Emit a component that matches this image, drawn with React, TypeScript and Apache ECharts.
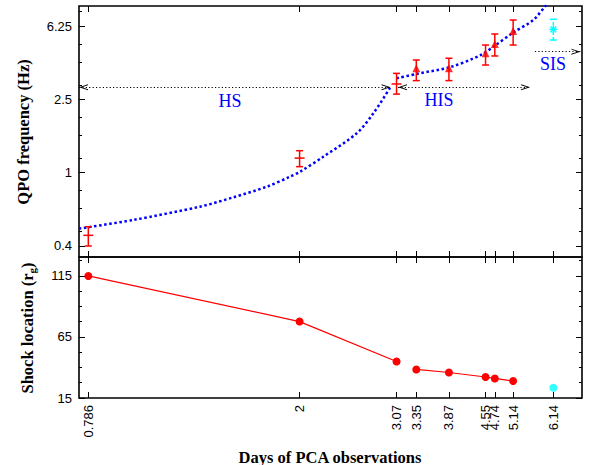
import React, { useEffect, useRef } from 'react';
import * as echarts from 'echarts';

// ---- axes ----
const days = [0.786, 2, 3.07, 3.35, 3.87, 4.55, 4.74, 5.14, 6.14];
const X_MIN = 0.7543;
const X_MAX = 6.969;
const FREQ_MIN = 0.3486;
const FREQ_MAX = 8.03;
const freqTicks = [0.4, 1, 2.5, 6.25];
const freqMinorTicks = [0.48, 0.64, 0.8, 1.2, 1.6, 2, 3, 4, 5, 7.5];
const SHOCK_MIN = 15;
const SHOCK_MAX = 130.5;
const shockTicks = [15, 65, 115];
const shockMinorTicks = [27.5, 40, 52.5, 77.5, 90, 102.5, 127.5];

// ---- QPO frequency (top panel) ----
const qpoDays = [0.786, 2, 3.07, 3.35, 3.87, 4.55, 4.74, 5.14];
const qpoFreq = [0.457, 1.2, 3.03, 3.69, 3.69, 4.45, 4.99, 5.88];
const qpoLow = [0.4, 1.078, 2.67, 3.16, 3.16, 3.84, 4.3, 4.93];
const qpoHigh = [0.509, 1.316, 3.46, 4.09, 4.18, 4.93, 5.66, 6.74];
const qpoMarker = ['plus', 'plus', 'plus', 'tri', 'tri', 'tri', 'tri', 'tri'];

const sisDay = [6.14];
const sisFreq = [6.0];
const sisLow = [5.25];
const sisHigh = [6.8];

// fitted curves
const fit1Days = [0.7543, 0.959, 1.288, 1.492, 1.729, 1.917, 2.004, 2.221, 2.575, 2.771, 2.983];
const fit1Freq = [0.497, 0.554, 0.654, 0.735, 0.839, 0.951, 1.012, 1.221, 1.636, 2.1, 2.89];
const fit2Days = [3.07, 3.36, 3.89, 4.44, 4.76, 5.14, 5.62, 5.94, 6.2];
const fit2Freq = [3.25, 3.44, 3.74, 4.33, 4.93, 5.76, 6.74, 8.07, 9.0];

// state arrows
const stateY = [2.91, 2.91, 4.54];
const stateStart = [X_MIN, 3.09, 5.66];
const stateEnd = [2.99, 5.54, 6.92];
const stateStartArrow = [true, true, false];

// ---- shock location (bottom panel) ----
const shockDaysA = [0.786, 2, 3.07];
const shockA = [115, 77.6, 44.9];
const shockDaysB = [3.35, 3.87, 4.55, 4.74, 5.14];
const shockB = [38.4, 35.9, 32.2, 31.0, 28.9];
const shockDaysC = [6.14];
const shockC = [23.4];

const RED = '#ff0000';
const BLUE = '#0000ff';
const CYAN = '#00ffff';
const SANS = '"Liberation Sans", Arial, sans-serif';
const SERIF = '"Liberation Serif", "Times New Roman", serif';

const chevron = 'path://M0,10 L5,0 L10,10 L8.4,10 L5,3.2 L1.6,10 Z';

const fmt = (v: any) => String(+Number(v).toPrecision(4));

function xAx(gridIndex: number, position: string, labels: boolean) {
  return {
    type: 'log', logBase: 10, gridIndex, position, min: X_MIN, max: X_MAX,
    axisLine: { show: false },
    splitLine: { show: false },
    minorTick: { show: false },
    axisTick: { show: true, inside: true, length: 6, customValues: days, lineStyle: { color: '#000', width: 1 } },
    axisLabel: labels
      ? { show: true, customValues: days, rotate: 90, margin: 7, fontSize: 13, fontFamily: SANS, color: '#000', formatter: fmt }
      : { show: false },
  };
}

function yAx(gridIndex: number, position: string, log: boolean, ticks: number[], len: number, labels: boolean) {
  const base: any = log
    ? { type: 'log', logBase: 2.5, min: FREQ_MIN, max: FREQ_MAX }
    : { type: 'value', min: SHOCK_MIN, max: SHOCK_MAX };
  return {
    ...base, gridIndex, position,
    axisLine: { show: false },
    splitLine: { show: false },
    minorTick: { show: false },
    axisTick: { show: true, inside: true, length: len, customValues: ticks, lineStyle: { color: '#000', width: 1 } },
    axisLabel: labels
      ? { show: true, customValues: ticks, margin: 7, fontSize: 13, fontFamily: SANS, color: '#000', formatter: fmt }
      : { show: false },
  };
}

export default function App() {
  const ref = useRef<HTMLDivElement>(null);
  useEffect(() => {
    document.body.style.margin = '0';
    const chart = echarts.init(ref.current!, null, { renderer: 'svg' });

    const errData = qpoDays.map((d, i) => [d, qpoFreq[i], qpoLow[i], qpoHigh[i], qpoMarker[i] === 'plus' ? 1 : 0]);
    const triData = qpoDays.map((d, i) => [d, qpoFreq[i]]).filter((_, i) => qpoMarker[i] === 'tri');
    const sisData = sisDay.map((d, i) => [d, sisFreq[i], sisLow[i], sisHigh[i]]);

    const arrowData = stateY.map((y, i) => [
      {
        coord: [stateStart[i], y],
        symbol: stateStartArrow[i] ? chevron : 'none',
        symbolSize: [6, 9],
        symbolOffset: [0, 4.5],
      },
      { coord: [stateEnd[i], y], symbol: chevron, symbolSize: [6, 9], symbolOffset: [0, 4.5] },
    ]);

    const option: any = {
      animation: false,
      textStyle: { fontFamily: SANS },
      grid: [
        { left: 79, top: 6, width: 503, height: 251, show: true, borderColor: '#000', borderWidth: 1.6, backgroundColor: 'transparent', outerBoundsMode: 'none' },
        { left: 79, top: 257, width: 503, height: 141, show: true, borderColor: '#000', borderWidth: 1.6, backgroundColor: 'transparent', outerBoundsMode: 'none' },
      ],
      xAxis: [
        xAx(0, 'bottom', false),
        xAx(0, 'top', false),
        xAx(1, 'bottom', true),
        xAx(1, 'top', false),
      ],
      yAxis: [
        yAx(0, 'left', true, freqTicks, 6, true),
        yAx(0, 'left', true, freqMinorTicks, 3, false),
        yAx(0, 'right', true, freqTicks, 6, false),
        yAx(0, 'right', true, freqMinorTicks, 3, false),
        yAx(1, 'left', false, shockTicks, 6, true),
        yAx(1, 'left', false, shockMinorTicks, 3, false),
        yAx(1, 'right', false, shockTicks, 6, false),
        yAx(1, 'right', false, shockMinorTicks, 3, false),
      ],
      series: [
        {
          name: 'fit1', type: 'line', xAxisIndex: 0, yAxisIndex: 0, smooth: 0.3, showSymbol: false, symbol: 'none',
          data: fit1Days.map((d, i) => [d, fit1Freq[i]]),
          lineStyle: { color: BLUE, width: 2.5, type: [2.5, 2.6] }, z: 2,
          markLine: {
            silent: true, animation: false,
            label: { show: false },
            lineStyle: { color: '#000', width: 1, type: [1.2, 2.2] },
            emphasis: { disabled: true },
            data: arrowData,
          },
        },
        {
          name: 'fit2', type: 'line', xAxisIndex: 0, yAxisIndex: 0, smooth: 0.3, showSymbol: false, symbol: 'none',
          data: fit2Days.map((d, i) => [d, fit2Freq[i]]),
          lineStyle: { color: BLUE, width: 2.5, type: [2.5, 2.6] }, z: 2,
        },
        {
          name: 'qpo', type: 'custom', xAxisIndex: 0, yAxisIndex: 0, z: 4,
          encode: { x: 0, y: 1 },
          data: errData,
          renderItem: (params: any, api: any) => {
            const x = api.value(0);
            const pV = api.coord([x, api.value(1)]);
            const pL = api.coord([x, api.value(2)]);
            const pH = api.coord([x, api.value(3)]);
            const plus = api.value(4) === 1;
            const st = { stroke: RED, lineWidth: 1.5, fill: 'none' };
            const c = 3.5;
            const children: any[] = [
              { type: 'line', shape: { x1: pL[0], y1: pL[1], x2: pH[0], y2: pH[1] }, style: st },
              { type: 'line', shape: { x1: pL[0] - c, y1: pL[1], x2: pL[0] + c, y2: pL[1] }, style: st },
              { type: 'line', shape: { x1: pH[0] - c, y1: pH[1], x2: pH[0] + c, y2: pH[1] }, style: st },
            ];
            if (plus) {
              children.push({ type: 'line', shape: { x1: pV[0] - 5, y1: pV[1], x2: pV[0] + 5, y2: pV[1] }, style: st });
            }
            return { type: 'group', children };
          },
        },
        {
          name: 'qpoTri', type: 'scatter', xAxisIndex: 0, yAxisIndex: 0, z: 5,
          symbol: 'triangle', symbolSize: 8,
          itemStyle: { color: RED },
          data: triData,
        },
        {
          name: 'sis', type: 'custom', xAxisIndex: 0, yAxisIndex: 0, z: 4,
          encode: { x: 0, y: 1 },
          data: sisData,
          renderItem: (params: any, api: any) => {
            const x = api.value(0);
            const pV = api.coord([x, api.value(1)]);
            const pL = api.coord([x, api.value(2)]);
            const pH = api.coord([x, api.value(3)]);
            const st = { stroke: CYAN, lineWidth: 1.5, fill: 'none' };
            const dashed = { ...st, lineDash: [3, 2] };
            const c = 3.5;
            const r = 4;
            const d = 2.9;
            return {
              type: 'group',
              children: [
                { type: 'line', shape: { x1: pL[0], y1: pL[1], x2: pH[0], y2: pH[1] }, style: dashed },
                { type: 'line', shape: { x1: pL[0] - c, y1: pL[1], x2: pL[0] + c, y2: pL[1] }, style: st },
                { type: 'line', shape: { x1: pH[0] - c, y1: pH[1], x2: pH[0] + c, y2: pH[1] }, style: st },
                { type: 'line', shape: { x1: pV[0], y1: pV[1] - r, x2: pV[0], y2: pV[1] + r }, style: st },
                { type: 'line', shape: { x1: pV[0] - r, y1: pV[1], x2: pV[0] + r, y2: pV[1] }, style: st },
                { type: 'line', shape: { x1: pV[0] - d, y1: pV[1] - d, x2: pV[0] + d, y2: pV[1] + d }, style: st },
                { type: 'line', shape: { x1: pV[0] - d, y1: pV[1] + d, x2: pV[0] + d, y2: pV[1] - d }, style: st },
              ],
            };
          },
        },
        {
          name: 'shockA', type: 'line', xAxisIndex: 2, yAxisIndex: 4, symbol: 'circle', symbolSize: 8, showSymbol: true,
          data: shockDaysA.map((d, i) => [d, shockA[i]]),
          itemStyle: { color: RED }, lineStyle: { color: RED, width: 1.2 },
        },
        {
          name: 'shockB', type: 'line', xAxisIndex: 2, yAxisIndex: 4, symbol: 'circle', symbolSize: 8, showSymbol: true,
          data: shockDaysB.map((d, i) => [d, shockB[i]]),
          itemStyle: { color: RED }, lineStyle: { color: RED, width: 1.2 },
        },
        {
          name: 'shockC', type: 'scatter', xAxisIndex: 2, yAxisIndex: 4, symbol: 'circle', symbolSize: 8,
          data: shockDaysC.map((d, i) => [d, shockC[i]]),
          itemStyle: { color: CYAN },
        },
      ],
      graphic: [
        { type: 'text', x: 230, y: 101, style: { text: 'HS', font: `18px ${SERIF}`, fill: BLUE, align: 'center', verticalAlign: 'middle', textAlign: 'center', textVerticalAlign: 'middle' } },
        { type: 'text', x: 439, y: 100, style: { text: 'HIS', font: `18px ${SERIF}`, fill: BLUE, align: 'center', verticalAlign: 'middle', textAlign: 'center', textVerticalAlign: 'middle' } },
        { type: 'text', x: 553, y: 64, style: { text: 'SIS', font: `18px ${SERIF}`, fill: BLUE, align: 'center', verticalAlign: 'middle', textAlign: 'center', textVerticalAlign: 'middle' } },
        { type: 'text', x: 23, y: 132, rotation: Math.PI / 2, style: { text: 'QPO frequency (Hz)', font: `bold 16.5px ${SERIF}`, fill: '#000', align: 'center', verticalAlign: 'middle', textAlign: 'center', textVerticalAlign: 'middle' } },
        {
          type: 'text', x: 27, y: 328, rotation: Math.PI / 2,
          style: {
            text: '{n|Shock location (r}{s|g}{n|)}',
            align: 'center', verticalAlign: 'middle', textAlign: 'center', textVerticalAlign: 'middle',
            rich: {
              n: { fontSize: 16.5, fontWeight: 'bold', fontFamily: SERIF, fill: '#000', lineHeight: 20, verticalAlign: 'middle' },
              s: { fontSize: 11, fontWeight: 'bold', fontFamily: SERIF, fill: '#000', lineHeight: 11, verticalAlign: 'bottom' },
            },
          },
        },
        { type: 'text', x: 330, y: 457, style: { text: 'Days of PCA observations', font: `bold 16.5px ${SERIF}`, fill: '#000', align: 'center', verticalAlign: 'middle', textAlign: 'center', textVerticalAlign: 'middle' } },
      ],
    };

    chart.setOption(option);
    return () => chart.dispose();
  }, []);
  return <div ref={ref} style={{ width: 592, height: 465 }} />;
}
